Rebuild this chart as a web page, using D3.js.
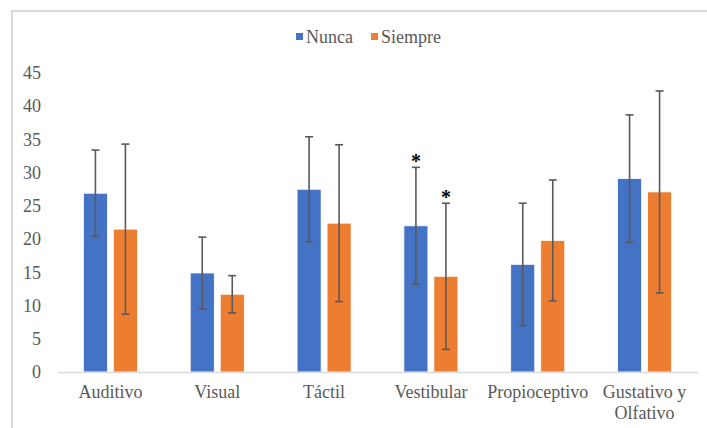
<!DOCTYPE html>
<html>
<head>
<meta charset="utf-8">
<script src="https://cdn.jsdelivr.net/npm/d3@7"></script>
<style>
  html, body { margin: 0; padding: 0; background: #fff; }
  svg { display: block; }
  text { font-family: "Liberation Serif", "Times New Roman", serif; }
</style>
</head>
<body>
<svg id="chart" width="707" height="428"></svg>
<script>
// ---- data ----
const categories = ["Auditivo", "Visual", "Táctil", "Vestibular", "Propioceptivo", "Gustativo y Olfativo"];
const series = ["Nunca", "Siempre"];
const nuncaMean = [26.9, 14.9, 27.5, 22.0, 16.2, 29.1];
const nuncaSD = [6.5, 5.4, 7.9, 8.8, 9.2, 9.6];
const siempreMean = [21.5, 11.7, 22.4, 14.4, 19.8, 27.1];
const siempreSD = [12.8, 2.8, 11.8, 11.0, 9.1, 15.2];
const nuncaSig = [false, false, false, true, false, false];
const siempreSig = [false, false, false, true, false, false];
const yTicks = [0, 5, 10, 15, 20, 25, 30, 35, 40, 45];

const colors = { "Nunca": "#4472C4", "Siempre": "#ED7D31" };

const svg = d3.select("#chart");

// frame
svg.append("rect")
  .attr("x", 12).attr("y", 11)
  .attr("width", 720).attr("height", 440)
  .attr("fill", "none").attr("stroke", "#d9d9d9").attr("stroke-width", 2);

const x = d3.scaleBand().domain(categories).range([57, 698]).padding(0);
const y = d3.scaleLinear().domain([0, 45]).range([372, 73]);
const groupW = 54;
const xs = d3.scaleBand().domain(series)
  .range([(x.bandwidth() - groupW) / 2, (x.bandwidth() + groupW) / 2])
  .paddingInner(0.2).paddingOuter(0);

const rows = [];
categories.forEach((c, i) => {
  rows.push({ cat: c, s: "Nunca", v: nuncaMean[i], sd: nuncaSD[i], sig: nuncaSig[i] });
  rows.push({ cat: c, s: "Siempre", v: siempreMean[i], sd: siempreSD[i], sig: siempreSig[i] });
});

// y axis labels
const yAxis = d3.axisLeft(y).tickValues(yTicks).tickSize(0).tickPadding(0);
const yg = svg.append("g").attr("transform", "translate(41,0)").call(yAxis);
yg.select(".domain").remove();
yg.selectAll("text")
  .attr("font-family", "Liberation Serif, serif")
  .attr("font-size", 18).attr("fill", "#595959");

// bars
svg.append("g").selectAll("rect").data(rows).join("rect")
  .attr("x", d => x(d.cat) + xs(d.s))
  .attr("y", d => y(d.v))
  .attr("width", xs.bandwidth())
  .attr("height", d => y(0) - y(d.v))
  .attr("fill", d => colors[d.s])
  .attr("stroke", "#ffffff").attr("stroke-width", 0.75);

// baseline
const xAxis = d3.axisBottom(x).tickSize(0).tickPadding(0).tickFormat("");
const xg = svg.append("g").attr("transform", `translate(0,${y(0)})`).call(xAxis);
xg.select(".domain").attr("stroke", "#d9d9d9").attr("stroke-width", 1.5);

// error bars
const eb = svg.append("g").attr("stroke", "#595959").attr("stroke-width", 1.6).attr("fill", "none");
rows.forEach(d => {
  const cx = x(d.cat) + xs(d.s) + xs.bandwidth() / 2;
  const top = y(d.v + d.sd), bot = y(d.v - d.sd);
  eb.append("line").attr("x1", cx).attr("x2", cx).attr("y1", top).attr("y2", bot);
  eb.append("line").attr("x1", cx - 4).attr("x2", cx + 4).attr("y1", top).attr("y2", top);
  eb.append("line").attr("x1", cx - 4).attr("x2", cx + 4).attr("y1", bot).attr("y2", bot);
});

// significance asterisks
svg.append("g").selectAll("text").data(rows.filter(d => d.sig)).join("text")
  .attr("x", d => x(d.cat) + xs(d.s) + xs.bandwidth() / 2)
  .attr("y", d => y(d.v + d.sd) + 1)
  .attr("text-anchor", "middle")
  .attr("font-size", 20).attr("font-weight", "bold").attr("fill", "#000")
  .text("*");

// category labels
const catG = svg.append("g");
categories.forEach(c => {
  const words = c === "Gustativo y Olfativo" ? ["Gustativo y", "Olfativo"] : [c];
  const t = catG.append("text")
    .attr("x", x(c) + x.bandwidth() / 2)
    .attr("y", 398)
    .attr("text-anchor", "middle")
    .attr("font-size", 18).attr("fill", "#595959");
  words.forEach((w, i) => {
    t.append("tspan").attr("x", x(c) + x.bandwidth() / 2).attr("dy", i === 0 ? 0 : 20.5).text(w);
  });
});

// legend
const legend = svg.append("g");
const legendItems = [
  { s: "Nunca", x: 296 },
  { s: "Siempre", x: 371 }
];
legendItems.forEach(it => {
  legend.append("rect").attr("x", it.x).attr("y", 33).attr("width", 7).attr("height", 7)
    .attr("fill", colors[it.s]);
  legend.append("text").attr("x", it.x + 10).attr("y", 43)
    .attr("font-size", 18).attr("fill", "#595959").text(it.s);
});
</script>
</body>
</html>
